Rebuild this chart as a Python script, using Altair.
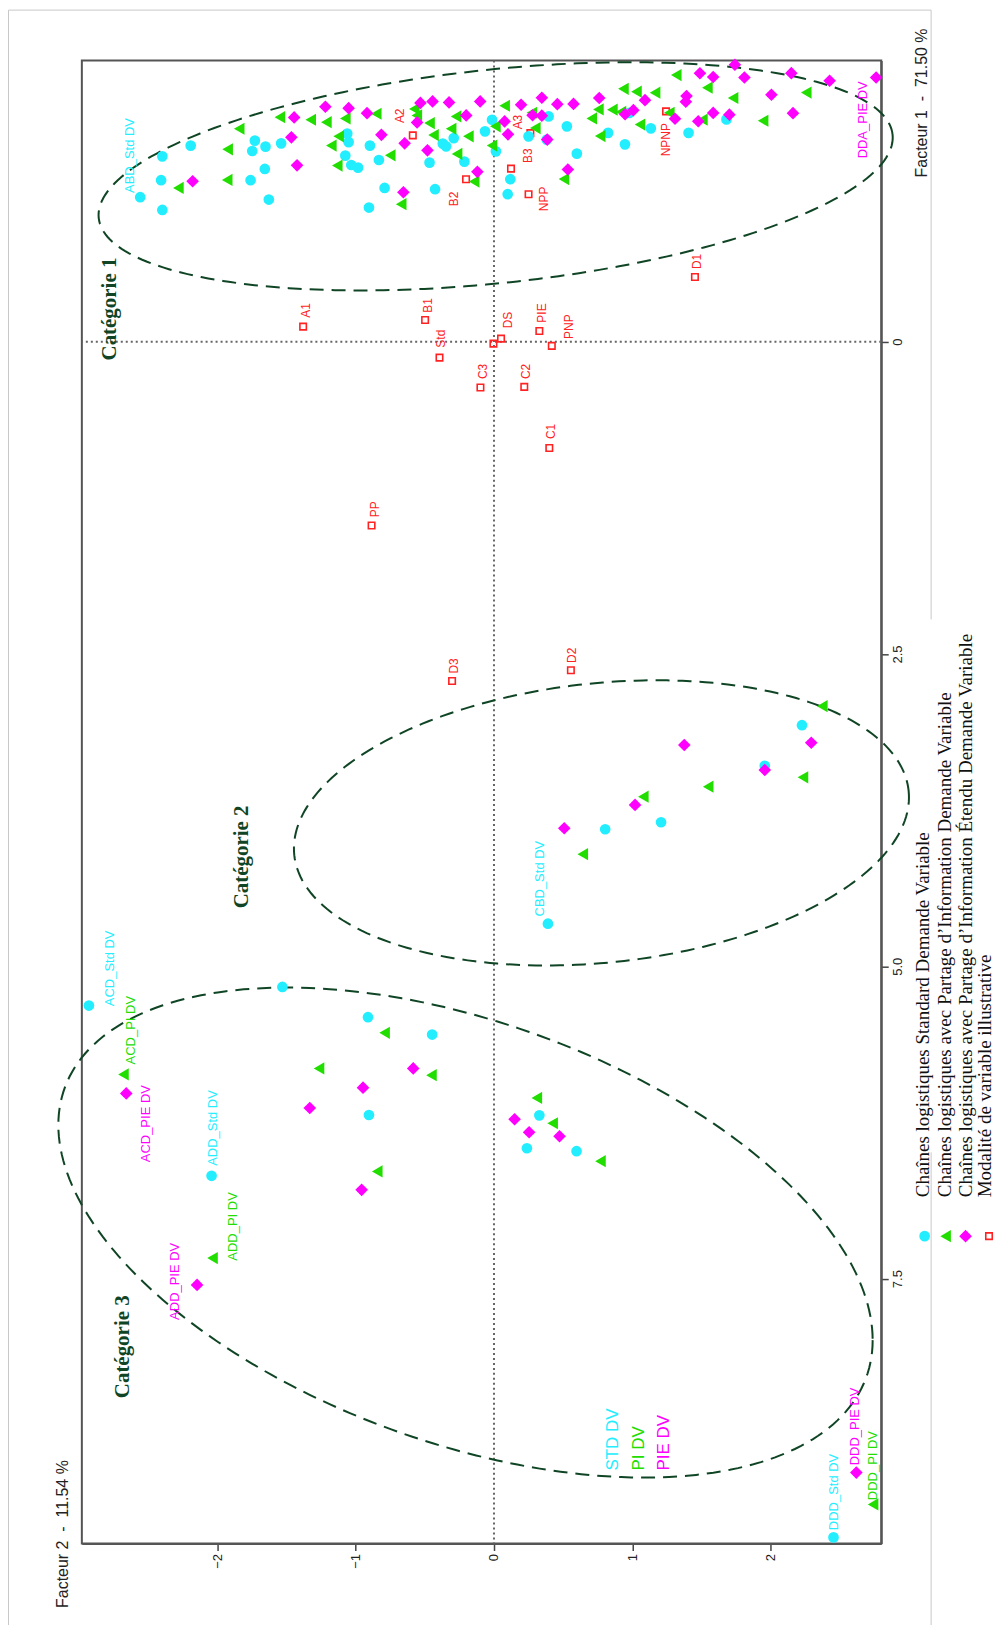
import altair as alt
import numpy as np
import pandas as pd

# ---------------- data (Facteur 2 = horizontal, Facteur 1 = vertical, downward) -------------
std_x = [-2.558, -2.398, -2.407, -2.398, -2.193, -1.729, -1.748, -1.652, -1.539, -1.657,
         -1.760, -1.628, -1.061, -1.051, -1.075, -1.032, -0.983, -0.897, -0.832, -0.791,
         -0.904, -0.466, -0.426, -0.370, -0.346, -0.291, -0.214, -0.065, -0.014, 0.014,
         0.118, 0.099, 0.250, 0.395, 0.382, 0.527, 0.599, 0.825, 0.947, 0.979,
         1.134, 1.407, 1.681,
         2.227, 1.958, 1.208, 0.804, 0.390,
         -2.929, -1.530, -0.911, -0.447, -0.904, 0.328, 0.238, 0.597, -2.042, 2.455]
std_y = [-1.156, -1.483, -1.292, -1.054, -1.569, -1.609, -1.526, -1.561, -1.587, -1.382,
         -1.292, -1.137, -1.665, -1.597, -1.489, -1.414, -1.393, -1.569, -1.454, -1.230,
         -1.073, -1.433, -1.220, -1.585, -1.563, -1.629, -1.441, -1.683, -1.776, -1.523,
         -1.300, -1.180, -1.643, -1.803, -1.617, -1.723, -1.505, -1.671, -1.579, -1.831,
         -1.707, -1.671, -1.779,
         3.070, 3.395, 3.847, 3.903, 4.659,
         5.314, 5.165, 5.407, 5.546, 6.190, 6.193, 6.456, 6.480, 6.677, 9.571]

pi_x = [-2.282, -1.926, -1.929, -1.842, -1.548, -1.325, -1.212, -1.075, -1.123, -1.176,
        -1.133, -0.851, -0.750, -0.671, -0.576, -0.558, -0.466, -0.437, -0.274, -0.310,
        -0.185, -0.267, -0.143, 0.010, -0.014, 0.077, 0.299, 0.274, 0.506, 0.707,
        0.755, 0.856, 0.918, 0.768, 0.936, 1.030, 1.165, 1.056, 1.318, 1.543,
        1.268, 1.507, 1.729, 1.946, 2.258,
        2.374, 2.234, 1.549, 1.080, 0.642,
        -0.791, -2.679, -1.265, -0.452, 0.310, 0.424, 0.770, -0.844, -2.035, 2.741]
pi_y = [-1.230, -1.539, -1.294, -1.704, -1.797, -1.776, -1.757, -1.787, -1.643, -1.569,
        -1.409, -1.824, -1.491, -1.100, -1.863, -1.811, -1.749, -1.653, -1.803, -1.704,
        -1.643, -1.502, -1.281, -1.723, -1.569, -1.888, -1.709, -1.832, -1.301, -1.787,
        -1.859, -1.857, -1.839, -1.645, -2.024, -2.001, -1.993, -1.737, -2.134, -2.033,
        -1.832, -1.777, -1.950, -1.768, -1.994,
        2.918, 3.487, 3.562, 3.642, 4.102,
        5.532, 5.865, 5.817, 5.871, 6.053, 6.256, 6.560, 6.642, 7.335, 9.307]

pie_x = [-2.179, -1.445, -1.219, -1.051, -0.918, -1.465, -1.424, -0.814, -0.646, -0.532,
         -0.444, -0.325, -0.100, -0.556, -0.481, -0.201, -0.120, -0.655, 0.196, 0.346,
         0.458, 0.279, 0.346, 0.077, 0.101, 0.385, 0.534, 0.575, 0.761, 0.948,
         1.008, 1.092, 1.309, 1.392, 1.387, 1.477, 1.489, 1.585, 1.585, 1.702,
         1.742, 1.811, 2.006, 2.150, 2.162, 2.427, 2.763,
         2.294, 1.376, 1.958, 1.020, 0.508,
         -0.584, -2.659, -0.947, -1.332, 0.149, 0.254, 0.474, -0.957, -2.147, 2.620]
pie_y = [-1.284, -1.795, -1.880, -1.869, -1.829, -1.635, -1.411, -1.655, -1.587, -1.911,
         -1.923, -1.915, -1.923, -1.755, -1.531, -1.811, -1.359, -1.196, -1.896, -1.952,
         -1.901, -1.812, -1.809, -1.763, -1.659, -1.617, -1.378, -1.903, -1.950, -1.820,
         -1.853, -1.933, -1.784, -1.966, -1.920, -1.764, -2.148, -2.118, -1.831, -1.817,
         -2.216, -2.114, -1.976, -2.149, -1.829, -2.088, -2.114,
         3.211, 3.229, 3.429, 3.708, 3.895,
         5.817, 6.017, 5.971, 6.134, 6.224, 6.328, 6.360, 6.789, 7.550, 9.052]

# illustrative modalities (red squares)
ill_x = [-1.380, -0.498, -0.394, -0.098, 0.051, -0.004, 0.219, 0.328, 0.418, 0.400,
         -0.885, -0.587, -0.202, 0.263, 0.123, 0.250, 1.244, 1.453, -0.303, 0.556]
ill_y = [-0.120, -0.173, 0.128, 0.367, -0.024, 0.016, 0.362, -0.085, 0.034, 0.851,
         1.472, -1.651, -1.300, -1.669, -1.385, -1.180, -1.843, -0.517, 2.716, 2.630]
ill_names = ["A1", "B1", "Std", "C3", "DS", "C2", "PIE", "PNP", "C1", "PP",
             "A2", "B2", "A3", "B3", "NPP", "NPNP", "D1", "D3", "D2"]
ill_lab_x = [-1.356, -0.478, -0.382, -0.082, 0.099, 0.231, 0.346, 0.544, 0.411, -0.863,
             -0.683, -0.286, 0.173, 0.243, 0.359, 1.244, 1.465, -0.291, 0.563]
ill_lab_y = [-0.192, -0.232, 0.048, 0.300, -0.107, 0.300, -0.152, -0.022, 0.780, 1.406,
             -1.749, -1.084, -1.699, -1.430, -1.044, -1.483, -0.581, 2.657, 2.572]

# named chain labels
name_text = ["ABD_Std DV", "CBD_Std DV", "ACD_Std DV", "ADD_Std DV", "DDD_Std DV",
             "ACD_PI DV", "ADD_PI DV", "DDD_PI DV",
             "ACD_PIE DV", "ADD_PIE DV", "DDD_PIE DV", "DDA_PIE DV"]
name_group = ["Std"] * 5 + ["PI"] * 3 + ["PIE"] * 4
name_x = [-2.631, 0.335, -2.775, -2.035, 2.458, -2.623, -1.890, 2.740, -2.515, -2.304, 2.610, 2.670]
name_y = [-1.190, 4.601, 5.319, 6.597, 9.513, 5.785, 7.356, 9.273, 6.568, 7.830, 8.994, -1.467]

# group captions inside the plot
cap_text = ["STD DV", "PI DV", "PIE DV"]
cap_group = ["Std", "PI", "PIE"]
cap_x = [0.860, 1.046, 1.231]
cap_y = [9.036, 9.036, 9.036]

cat_text = ["Catégorie 1", "Catégorie 2", "Catégorie 3"]
cat_x = [-2.776, -1.825, -2.684]
cat_y = [-0.261, 4.124, 8.045]

# ellipse outlines: centre and axis vectors (data units)
ell_cx = [0.012, 0.777, -0.206]
ell_cy = [-1.323, 3.852, 7.131]
ell_a = [2.870, 2.221, 2.944]
ell_b = [0.081, 0.106, 0.0]
ell_c = [-0.334, -0.258, 0.861]
ell_d = [0.850, 1.112, 1.762]

legend_text = ["Chaînes logistiques Standard Demande Variable",
               "Chaînes logistiques avec Partage d\u2019Information Demande Variable",
               "Chaînes logistiques avec Partage d\u2019Information Étendu Demande Variable",
               "Modalité de variable illustrative"]

NB = "\u00a0"
title_f2 = "Facteur 2" + NB * 2 + "-" + NB * 2 + "11.54 %"
title_f1 = "Facteur 1" + NB * 2 + "-" + NB * 2 + "71.50 %"

# ---------------- styling ----------------
CYAN, GREEN, MAGENTA, RED, DKGREEN = "#22EEFF", "#22DD00", "#FF00FF", "#FF2222", "#0F4524"
W, H = 801, 1486
xs = alt.Scale(domain=[-2.98, 2.80], nice=False, zero=False)
ys = alt.Scale(domain=[-2.25, 9.62], nice=False, zero=False, reverse=True)

x_axis = alt.Axis(values=[-2, -1, 0, 1, 2], labelAngle=270, labelAlign="right", labelBaseline="middle",
                  grid=False, tickSize=7, tickWidth=1.5, tickColor="#444", domainColor="#555", domainWidth=2,
                  labelFont="Liberation Sans", labelFontSize=13, labelColor="#222", labelPadding=3,
                  labelOverlap=False, labelFlush=False,
                  title=title_f2, titleAngle=270, titleX=-19, titleY=-10,
                  titleAlign="center", titleBaseline="middle", titleFont="Liberation Sans",
                  titleFontSize=16, titleFontWeight="normal", titleColor="#222")
y_axis = alt.Axis(orient="right", values=[0, 2.5, 5, 7.5],
                  labelExpr="datum.value == 0 ? '0' : format(datum.value, '.1f')",
                  labelAngle=270, labelAlign="center", labelBaseline="top",
                  grid=False, tickSize=7, tickWidth=1.5, tickColor="#444", domainColor="#555", domainWidth=2,
                  labelFont="Liberation Sans", labelFontSize=13, labelColor="#222", labelPadding=3,
                  labelOverlap=False, labelFlush=False,
                  title=title_f1, titleAngle=270, titleX=40, titleY=42,
                  titleAlign="center", titleBaseline="middle", titleFont="Liberation Sans",
                  titleFontSize=16, titleFontWeight="normal", titleColor="#222")


def X():
    return alt.X("x:Q", scale=xs, axis=x_axis)


def Y():
    return alt.Y("y:Q", scale=ys, axis=y_axis)


color_scale = alt.Scale(domain=["Std", "PI", "PIE"], range=[CYAN, GREEN, MAGENTA])

# ---------------- layers ----------------
vline = alt.Chart(pd.DataFrame({"x": [0]})).mark_rule(
    color="#666", strokeWidth=2, strokeDash=[2, 3]).encode(x=X())
hline = alt.Chart(pd.DataFrame({"y": [0]})).mark_rule(
    color="#666", strokeWidth=2, strokeDash=[2, 3]).encode(y=Y())

t = np.linspace(0, 2 * np.pi, 241)
rows = []
for i in range(3):
    for k, tt in enumerate(t):
        rows.append({"eid": i, "order": k,
                     "x": ell_cx[i] + ell_a[i] * np.cos(tt) + ell_b[i] * np.sin(tt),
                     "y": ell_cy[i] + ell_c[i] * np.cos(tt) + ell_d[i] * np.sin(tt)})
ell_df = pd.DataFrame(rows)
ellipses = alt.Chart(ell_df).mark_line(
    color=DKGREEN, strokeWidth=2, strokeDash=[14, 8]).encode(
    x=X(), y=Y(), order="order:Q", detail="eid:N")

std_pts = alt.Chart(pd.DataFrame({"x": std_x, "y": std_y})).mark_point(
    shape="circle", filled=True, size=115, color=CYAN, opacity=1).encode(x=X(), y=Y())
pi_pts = alt.Chart(pd.DataFrame({"x": pi_x, "y": pi_y})).mark_point(
    shape="triangle-left", filled=True, size=150, color=GREEN, opacity=1).encode(x=X(), y=Y())
pie_pts = alt.Chart(pd.DataFrame({"x": pie_x, "y": pie_y})).mark_point(
    shape="diamond", filled=True, size=160, color=MAGENTA, opacity=1).encode(x=X(), y=Y())
ill_pts = alt.Chart(pd.DataFrame({"x": ill_x, "y": ill_y})).mark_point(
    shape="square", filled=False, size=42, color=RED, strokeWidth=1.6, opacity=1).encode(x=X(), y=Y())

ill_labels = alt.Chart(pd.DataFrame({"x": ill_lab_x, "y": ill_lab_y, "t": ill_names})).mark_text(
    angle=270, align="left", baseline="middle", font="Liberation Sans", fontSize=12, color=RED).encode(
    x=X(), y=Y(), text="t:N")

name_labels = alt.Chart(pd.DataFrame({"x": name_x, "y": name_y, "t": name_text, "g": name_group})).mark_text(
    angle=270, align="left", baseline="middle", font="Liberation Sans", fontSize=13).encode(
    x=X(), y=Y(), text="t:N", color=alt.Color("g:N", scale=color_scale, legend=None))

captions = alt.Chart(pd.DataFrame({"x": cap_x, "y": cap_y, "t": cap_text, "g": cap_group})).mark_text(
    angle=270, align="left", baseline="middle", font="Liberation Sans", fontSize=17).encode(
    x=X(), y=Y(), text="t:N", color=alt.Color("g:N", scale=color_scale, legend=None))

cats = alt.Chart(pd.DataFrame({"x": cat_x, "y": cat_y, "t": cat_text})).mark_text(
    angle=270, align="center", baseline="middle", font="Liberation Serif", fontSize=21,
    fontWeight="bold", color=DKGREEN).encode(x=X(), y=Y(), text="t:N")

# ---------------- manual legend (rotated) ----------------
one = pd.DataFrame({"k": [0]})
leg_sym_x = [844.5, 865.5, 885.5, 909.0]
leg_txt_x = [842.5, 865.0, 885.5, 905.0]
leg_sym_y = 1178
leg_text_y = 1139
leg_shapes = [("circle", CYAN, True, 115), ("triangle-left", GREEN, True, 150),
              ("diamond", MAGENTA, True, 160), ("square", RED, False, 42)]
legend_layers = []
for i in range(4):
    shp, col, filled, sz = leg_shapes[i]
    legend_layers.append(alt.Chart(one).mark_point(
        shape=shp, filled=filled, size=sz, color=col, opacity=1, strokeWidth=1.6).encode(
        x=alt.value(leg_sym_x[i]), y=alt.value(leg_sym_y)))
    legend_layers.append(alt.Chart(one).mark_text(
        angle=270, align="left", baseline="middle", font="Liberation Serif", fontSize=19,
        color="#111").encode(x=alt.value(leg_txt_x[i]), y=alt.value(leg_text_y),
                             text=alt.value(legend_text[i])))

# outer light frame of the figure
frame_col = "#C8C8C8"
frame = [
    alt.Chart(one).mark_rule(color=frame_col, strokeWidth=1).encode(
        x=alt.value(-73.5), x2=alt.value(-73.5), y=alt.value(-50.5), y2=alt.value(1600)),
    alt.Chart(one).mark_rule(color=frame_col, strokeWidth=1).encode(
        x=alt.value(-73.5), x2=alt.value(851), y=alt.value(-50.5), y2=alt.value(-50.5)),
    alt.Chart(one).mark_rule(color=frame_col, strokeWidth=1).encode(
        x=alt.value(851), x2=alt.value(851), y=alt.value(-50.5), y2=alt.value(560)),
    alt.Chart(one).mark_rule(color=frame_col, strokeWidth=1).encode(
        x=alt.value(851), x2=alt.value(851), y=alt.value(1094), y2=alt.value(1600)),
]

chart = alt.layer(
    *frame, vline, hline, ellipses, ill_pts, std_pts, pi_pts, pie_pts,
    ill_labels, name_labels, captions, cats, *legend_layers
).properties(
    width=W, height=H,
    autosize=alt.AutoSizeParams(type="none"),
    padding={"left": 74, "top": 51, "right": 114, "bottom": 80},
    background="white",
).configure_view(stroke="#555", strokeWidth=2)

chart.save("out.html", embed_options={"renderer": "svg", "actions": False})
